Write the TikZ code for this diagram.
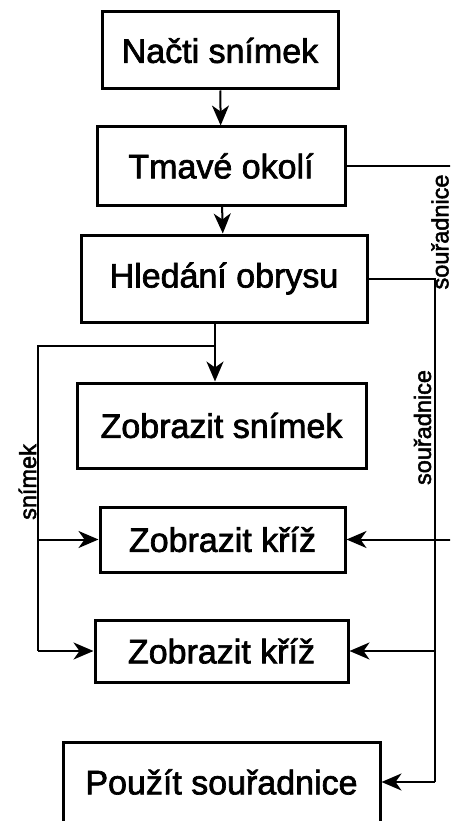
\documentclass[tikz,border=0pt]{standalone}
\usepackage{fontspec}
\setmainfont{Liberation Sans}
\newfontfamily\heavysans{Liberation Sans}[FakeBold=2]
\usetikzlibrary{arrows.meta}
\begin{document}
\begin{tikzpicture}[x=1pt,y=-1pt,
  box/.style={draw,line width=3pt,inner sep=0pt,font=\heavysans\fontsize{34}{40}\selectfont},
  conn/.style={line width=2pt},
  arr/.style={conn,-{Stealth[length=20pt,width=17pt,inset=6pt]}},
  lbl/.style={rotate=90,inner sep=0pt,font=\heavysans\fontsize{23.5}{28}\selectfont}]
\useasboundingbox (0,0) rectangle (450,821);
\clip (0,0) rectangle (450,821);

% process boxes
\node[box,minimum width=236pt,minimum height=77pt] (nacti)   at (220,50.5)  {Načti snímek};
\node[box,minimum width=248pt,minimum height=78pt] (tmave)   at (221,166)   {Tmavé okolí};
\node[box,minimum width=286pt,minimum height=87pt] (hledani) at (224,278.5) {Hledání obrysu};
\node[box,minimum width=289pt,minimum height=85pt] (zobsn)   at (221.5,425.5) {Zobrazit snímek};
\node[box,minimum width=245pt,minimum height=65pt] (kriz1)   at (222.5,539.5) {Zobrazit kříž};
\node[box,minimum width=253pt,minimum height=62pt] (kriz2)   at (221.5,651) {Zobrazit kříž};
\node[box,minimum width=317pt,minimum height=80pt] (pouzit)  at (221.5,782) {Použít souřadnice};

% main flow
\draw[arr] (nacti) -- (tmave);
\draw[arr] (tmave) -- (hledani);

% image bus on the left
\coordinate (br) at (215,346);
\coordinate (lb) at (38,346);
\draw[conn] (hledani.south -| br) -- (br);
\draw[arr] (br) -- (br |- zobsn.north);
\draw[conn] (br) -- (lb) -- (lb |- kriz2.west);
\draw[arr] (lb |- kriz1.west) -- (kriz1.west);
\draw[arr] (lb |- kriz2.west) -- (kriz2.west);

% coordinate bus on the right
\coordinate (rb) at (435,280);
\draw[conn] (hledani.east) -- (hledani.east -| rb) -- (rb |- pouzit.east);
\draw[arr] (rb |- kriz2.east) -- (kriz2.east);
\draw[arr] (rb |- pouzit.east) -- (pouzit.east);

% dark surroundings coordinates, routed past the right edge
\coordinate (far) at (470,540);
\draw[arr] (tmave.east) -| (far) -- (kriz1.east -| far) -- (kriz1.east);

% labels
\node[lbl] (s1) at (440,232)     {souřadnice};
\node[lbl] (s2) at (422.5,427.5) {souřadnice};
\node[lbl] (sn) at (27.5,482)    {snímek};
\end{tikzpicture}
\end{document}
